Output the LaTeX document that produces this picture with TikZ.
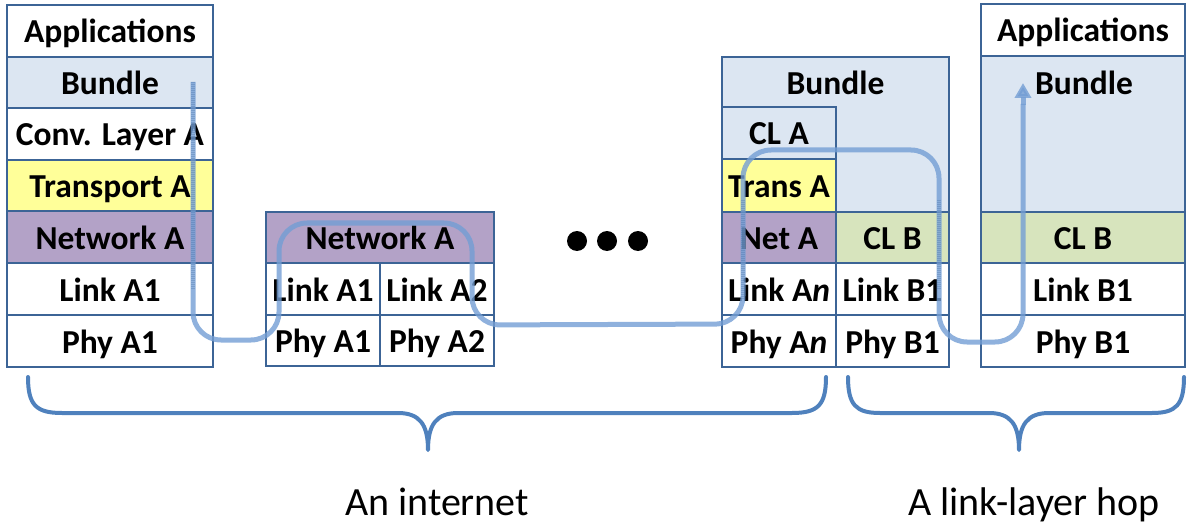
\documentclass[tikz,border=0pt]{standalone}
\usepackage{fontspec}
\setmainfont{Carlito}
\usetikzlibrary{arrows.meta}
\definecolor{bordercol}{RGB}{60,100,150}
\definecolor{bundlefill}{RGB}{220,230,242}
\definecolor{transfill}{RGB}{255,255,153}
\definecolor{netfill}{RGB}{179,162,199}
\definecolor{clbfill}{RGB}{215,228,189}
\definecolor{pathcol}{RGB}{115,158,212}
\definecolor{bracecol}{RGB}{79,129,189}
\tikzset{
  cell/.style={draw=bordercol, line width=2.5pt, inner sep=0pt, outer sep=0pt,
    font=\fontsize{33.5}{36}\selectfont\bfseries, text height=24pt, text depth=0pt},
  lbl/.style={inner sep=0pt, font=\fontsize{33.5}{36}\selectfont\bfseries, text height=24pt, text depth=0pt},
  flow/.style={draw=pathcol, line width=5pt, opacity=0.8, rounded corners=28pt},
  texture/.style={draw=bordercol!70!pathcol, line width=4pt, opacity=0.35, dash pattern=on 1pt off 1pt},
  brace/.style={draw=bracecol, line width=4pt, line join=round, line cap=round},
  captext/.style={inner sep=0pt, anchor=base, font=\fontsize{40}{44}\selectfont},
  dot/.style={circle, fill=black, minimum size=20pt, inner sep=0pt}
}
\begin{document}
\begin{tikzpicture}[x=1pt,y=-1pt]
\useasboundingbox (0,0) rectangle (1187,524);
% left stack
\node[cell, minimum width=206, minimum height=52] (LApp) at (110,31) {Applications};
\node[cell, fill=bundlefill, minimum width=206, minimum height=51] (LBun) at (110,82.5) {Bundle};
\node[cell, minimum width=206, minimum height=52] (LConv) at (110,134) {Conv. Layer A};
\node[cell, fill=transfill, minimum width=206, minimum height=51] (LTr) at (110,185.5) {Transport A};
\node[cell, fill=netfill, minimum width=206, minimum height=52] (LNet) at (110,237) {Network A};
\node[cell, minimum width=206, minimum height=52] (LLink) at (110,289) {Link A1};
\node[cell, minimum width=206, minimum height=52] (LPhy) at (110,341) {Phy A1};
% middle router
\node[cell, fill=netfill, minimum width=228, minimum height=51] (MNet) at (380,237.5) {Network A};
\node[cell, minimum width=114, minimum height=52] (MLink1) at (323,289) {Link A1};
\node[cell, minimum width=114, minimum height=52] (MLink2) at (437,289) {Link A2};
\node[cell, minimum width=114, minimum height=51] (MPhy1) at (323,340.5) {Phy A1};
\node[cell, minimum width=114, minimum height=51] (MPhy2) at (437,340.5) {Phy A2};
% dots
\node[dot] (d1) at (577,241) {};
\node[dot] (d2) at (607,241) {};
\node[dot] (d3) at (638,241) {};
% gateway
\node[cell, fill=bundlefill, minimum width=227, minimum height=155] (RBun) at (835.5,134.5) {};
\node[lbl] (RBunT) at (835.5,83) {Bundle};
\node[cell, minimum width=114, minimum height=52] (RCLA) at (779,133) {CL A};
\node[cell, fill=transfill, minimum width=114, minimum height=53] (RTrA) at (779,185.5) {Trans A};
\node[cell, fill=netfill, minimum width=114, minimum height=51] (RNetA) at (779,237.5) {Net A};
\node[cell, minimum width=114, minimum height=52] (RLinkA) at (779,289) {Link A\textit{n}};
\node[cell, minimum width=114, minimum height=52] (RPhyA) at (779,341) {Phy A\textit{n}};
\node[cell, fill=clbfill, minimum width=113, minimum height=51] (RCLB) at (892.5,237.5) {CL B};
\node[cell, minimum width=113, minimum height=52] (RLinkB) at (892.5,289) {Link B1};
\node[cell, minimum width=113, minimum height=52] (RPhyB) at (892.5,341) {Phy B1};
% right stack
\node[cell, minimum width=204, minimum height=52] (SApp) at (1083,30) {Applications};
\node[cell, fill=bundlefill, minimum width=204, minimum height=156] (SBun) at (1083,134) {};
\node[lbl] (SBunT) at (1084,83) {Bundle};
\node[cell, fill=clbfill, minimum width=204, minimum height=51] (SCLB) at (1083,237.5) {CL B};
\node[cell, minimum width=204, minimum height=52] (SLink) at (1083,289) {Link B1};
\node[cell, minimum width=204, minimum height=52] (SPhy) at (1083,341) {Phy B1};
% flow path
\coordinate (fStart) at (193,82);
\coordinate (fEnd) at (1023,83);
\draw[flow] (fStart) -- (193,340) -- (279,340) -- (279,223) -- (472,223) -- (472,325)
  -- (743,324) -- (743,150) -- (939,150) -- (939,342) -- (1023,342) -- (1023,104);
\draw[draw=pathcol, line width=5pt, opacity=0.8, -{Triangle[width=16pt,length=15pt]}] (1023,105) -- (fEnd);
\draw[texture] (fStart) -- (193,290);
\draw[texture] (743,200) -- (743,300);
\draw[texture] (939,200) -- (939,290);
% braces
\coordinate (b1L) at (28,377);
\coordinate (b1R) at (826,377);
\coordinate (b1T) at (428,450);
\coordinate (b2L) at (848,377);
\coordinate (b2R) at (1184,377);
\coordinate (b2T) at (1019,450);
\draw[brace] (b1L) .. controls (28,405) and (36,413) .. (62,413) -- (398,413)
  .. controls (420,413) and (428,425) .. (b1T)
  .. controls (428,425) and (436,413) .. (458,413) -- (792,413)
  .. controls (818,413) and (826,405) .. (b1R);
\draw[brace] (b2L) .. controls (848,405) and (856,413) .. (880,413) -- (989,413)
  .. controls (1011,413) and (1019,425) .. (b2T)
  .. controls (1019,425) and (1027,413) .. (1049,413) -- (1152,413)
  .. controls (1176,413) and (1184,405) .. (b2R);
\node[captext] (capA) at (437,515) {An internet};
\node[captext] (capB) at (1034,515) {A link-layer hop};
\end{tikzpicture}
\end{document}
